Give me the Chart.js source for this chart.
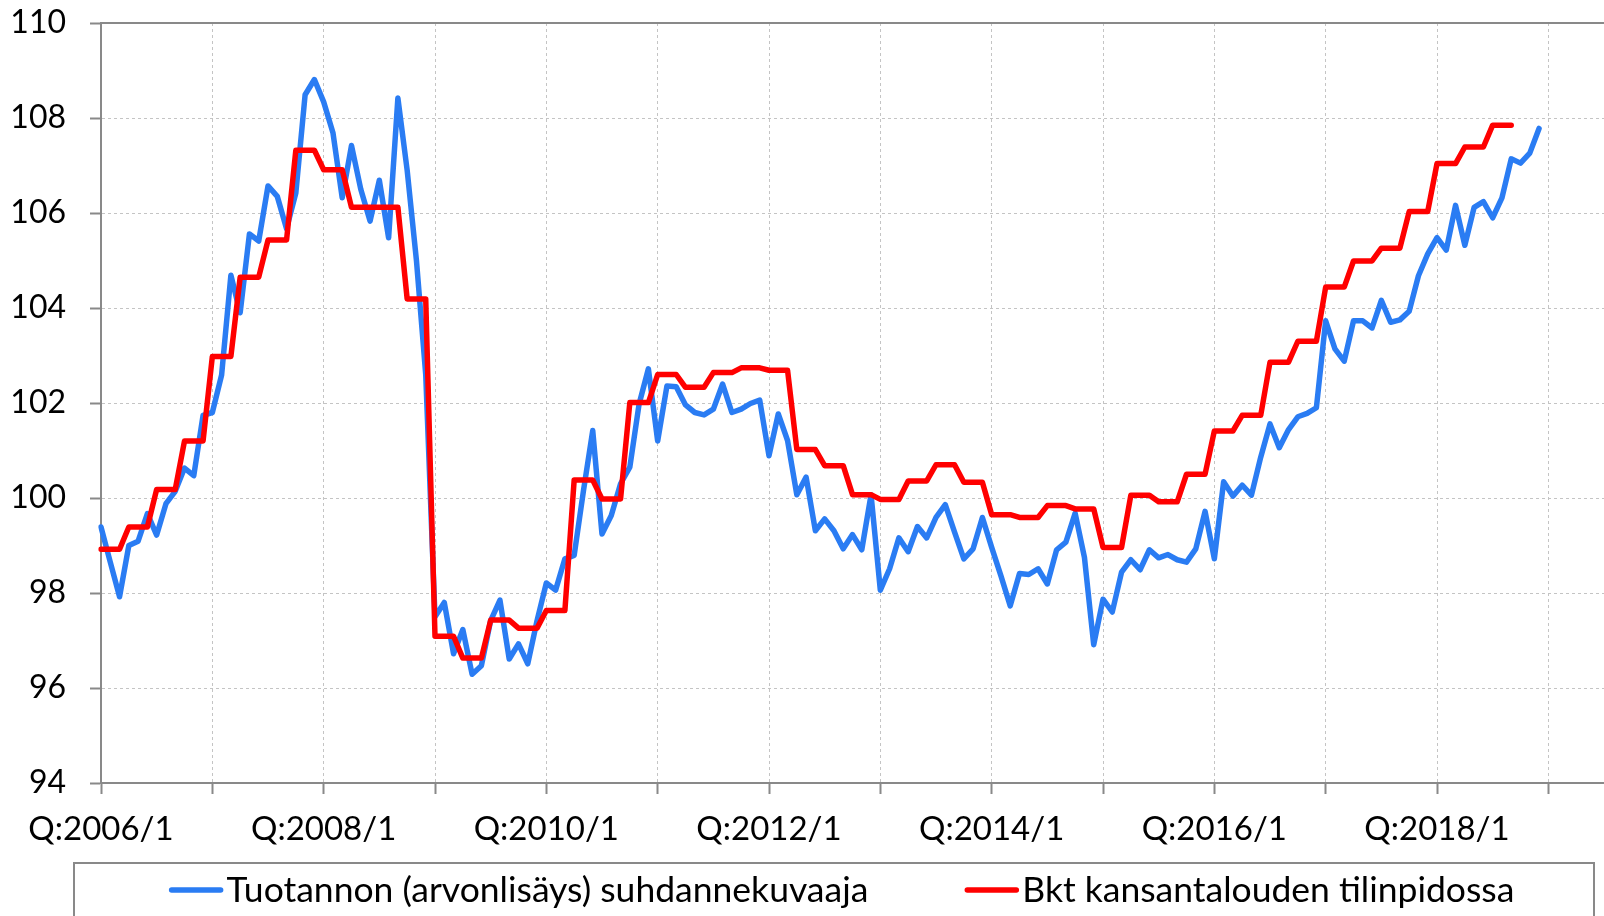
<!DOCTYPE html>
<html>
<head>
<meta charset="utf-8">
<title>Tuotannon suhdannekuvaaja ja Bkt</title>
<script src="https://cdn.jsdelivr.net/npm/chart.js@4.4.1/dist/chart.umd.min.js"></script>
<style>
  html, body { margin: 0; padding: 0; background: #ffffff; overflow: hidden; }
  #chart { display: block; }
</style>
</head>
<body>
<canvas id="chart" width="1604" height="916"></canvas>
<script>
// monthly axis runs from 2006/1 a little past the last observation
const startYear = 2006;
const axisMonths = 163;

// trend of output (value added), monthly 2006/1 - 2018/12
const outputTrend = [
  99.39, 98.65, 97.92, 99.00, 99.09, 99.67, 99.22, 99.88, 100.14, 100.63, 100.47, 101.74,
  101.80, 102.59, 104.69, 103.90, 105.56, 105.41, 106.57, 106.35, 105.67, 106.42, 108.49, 108.81,
  108.34, 107.69, 106.32, 107.42, 106.50, 105.83, 106.69, 105.48, 108.42, 106.90, 105.00, 102.60,
  97.50, 97.80, 96.72, 97.23, 96.29, 96.47, 97.42, 97.85, 96.61, 96.93, 96.51, 97.42,
  98.21, 98.06, 98.72, 98.79, 100.15, 101.42, 99.24, 99.63, 100.30, 100.65, 101.98, 102.72,
  101.20, 102.36, 102.34, 101.96, 101.80, 101.75, 101.87, 102.40, 101.80, 101.87, 101.99, 102.06,
  100.89, 101.77, 101.21, 100.07, 100.44, 99.31, 99.56, 99.31, 98.93, 99.23, 98.91, 100.07,
  98.06, 98.51, 99.16, 98.87, 99.40, 99.16, 99.59, 99.86, 99.28, 98.72, 98.93, 99.59,
  98.96, 98.36, 97.73, 98.41, 98.39, 98.51, 98.19, 98.91, 99.07, 99.68, 98.75, 96.91,
  97.87, 97.60, 98.44, 98.70, 98.49, 98.91, 98.74, 98.81, 98.70, 98.65, 98.93, 99.72,
  98.72, 100.34, 100.04, 100.27, 100.06, 100.86, 101.56, 101.06, 101.44, 101.71, 101.78, 101.90,
  103.73, 103.14, 102.88, 103.73, 103.73, 103.58, 104.16, 103.70, 103.75, 103.93, 104.68, 105.14,
  105.48, 105.22, 106.16, 105.32, 106.12, 106.24, 105.90, 106.32, 107.14, 107.05, 107.26, 107.78
];

// GDP in the national accounts, quarterly 2006Q1 - 2018Q3
const gdpQuarterly = [
  98.92, 99.39, 100.18, 101.20,
  102.98, 104.65, 105.43, 107.32,
  106.91, 106.12, 106.12, 104.19,
  97.09, 96.63, 97.43, 97.26,
  97.63, 100.38, 99.98, 102.01,
  102.60, 102.33, 102.64, 102.74,
  102.69, 101.02, 100.68, 100.07,
  99.97, 100.36, 100.70, 100.33,
  99.65, 99.59, 99.84, 99.77,
  98.96, 100.06, 99.92, 100.50,
  101.41, 101.74, 102.86, 103.30,
  104.44, 104.99, 105.26, 106.03,
  107.04, 107.39, 107.85
];

const seriesNames = [
  'Tuotannon (arvonlisäys) suhdannekuvaaja',
  'Bkt kansantalouden tilinpidossa'
];

const yMin = 94;
const yMax = 110;
const yStep = 2;

// labels like Q:2006/1 for every month on the axis
const monthLabels = [];
for (let i = 0; i < axisMonths; i++) {
  monthLabels.push('Q:' + (startYear + Math.floor(i / 12)) + '/' + (i % 12 + 1));
}

// each quarter's value is held for its three months
const gdpMonthly = gdpQuarterly.flatMap(v => [v, v, v]);

Chart.defaults.font.family = 'Lato, "Open Sans", sans-serif';
Chart.defaults.color = '#000000';

const axisGrey = '#898989';
const gridGrey = '#c4c4c4';

// keep the plot area where the layout puts it, labels may overhang
function noPadding(scale) {
  scale.paddingTop = 0;
  scale.paddingBottom = 0;
  scale.paddingLeft = 0;
  scale.paddingRight = 0;
}

// framed legend under the axis labels
const boxLegend = {
  id: 'boxLegend',
  afterDraw(chart) {
    const ctx = chart.ctx;
    const frameLeft = 74, frameRight = 1594, frameTop = 863;
    const lineY = 890, sampleW = 53, textGap = 4, itemGap = 97;
    ctx.save();
    ctx.strokeStyle = axisGrey;
    ctx.lineWidth = 2;
    ctx.strokeRect(frameLeft, frameTop, frameRight - frameLeft, 120);

    ctx.font = '35.5px Lato, "Open Sans", sans-serif';
    ctx.textBaseline = 'middle';
    ctx.fillStyle = '#000000';
    const items = chart.data.datasets.map(ds => ({
      text: ds.label,
      color: ds.borderColor,
      w: sampleW + textGap + ctx.measureText(ds.label).width
    }));
    const total = items.reduce((s, it) => s + it.w, 0) + itemGap * (items.length - 1);
    let x = (frameLeft + frameRight) / 2 + 8 - total / 2;
    items.forEach(it => {
      ctx.strokeStyle = it.color;
      ctx.lineWidth = 5.5;
      ctx.lineCap = 'round';
      ctx.beginPath();
      ctx.moveTo(x + 2, lineY);
      ctx.lineTo(x + sampleW - 2, lineY);
      ctx.stroke();
      ctx.fillText(it.text, x + sampleW + textGap, lineY + 1);
      x += it.w + itemGap;
    });
    ctx.restore();
  }
};

const chart = new Chart(document.getElementById('chart'), {
  type: 'line',
  data: {
    labels: monthLabels,
    datasets: [
      {
        label: seriesNames[0],
        data: outputTrend,
        borderColor: '#2a7cf3',
        borderWidth: 5.5,
        pointRadius: 0,
        tension: 0,
        borderJoinStyle: 'round',
        borderCapStyle: 'round',
        order: 2
      },
      {
        label: seriesNames[1],
        data: gdpMonthly,
        borderColor: '#ff0000',
        borderWidth: 5.5,
        pointRadius: 0,
        tension: 0,
        borderJoinStyle: 'round',
        borderCapStyle: 'round',
        order: 1
      }
    ]
  },
  options: {
    responsive: false,
    animation: false,
    layout: { padding: { top: 23, left: 0, right: 0, bottom: 0 } },
    plugins: {
      legend: { display: false },
      tooltip: { enabled: false }
    },
    scales: {
      x: {
        type: 'category',
        position: 'bottom',
        offset: false,
        afterFit: scale => { scale.height = 133; noPadding(scale); },
        grid: {
          offset: false,
          color: c => (c.index % 12 === 0 ? gridGrey : 'rgba(0,0,0,0)'),
          lineWidth: c => (c.index % 12 === 0 ? 1 : 0),
          tickColor: c => (c.index % 12 === 0 ? axisGrey : 'rgba(0,0,0,0)'),
          tickWidth: c => (c.index % 12 === 0 ? 2 : 0),
          tickLength: 11
        },
        border: { color: axisGrey, width: 2, dash: [3, 3] },
        ticks: {
          autoSkip: false,
          maxRotation: 0,
          minRotation: 0,
          padding: 16,
          font: { size: 33 },
          callback: function (val, index) {
            return index % 24 === 0 ? this.getLabelForValue(val) : '';
          }
        }
      },
      top: {
        type: 'category',
        position: 'top',
        afterFit: scale => { scale.height = 0; noPadding(scale); },
        grid: { display: false, drawTicks: false },
        border: { color: axisGrey, width: 2 },
        ticks: { display: false }
      },
      y: {
        min: yMin,
        max: yMax,
        afterFit: scale => { scale.width = 101; noPadding(scale); },
        grid: {
          color: gridGrey,
          lineWidth: 1,
          tickColor: axisGrey,
          tickWidth: 2,
          tickLength: 11
        },
        border: { color: axisGrey, width: 2, dash: [3, 3] },
        ticks: {
          stepSize: yStep,
          padding: 24,
          font: { size: 32 }
        }
      }
    }
  },
  plugins: [boxLegend]
});
</script>
</body>
</html>
